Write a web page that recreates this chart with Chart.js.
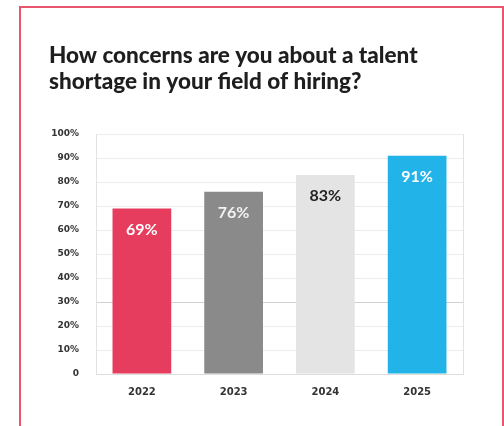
<!DOCTYPE html>
<html>
<head>
<meta charset="utf-8">
<script src="https://cdn.jsdelivr.net/npm/chart.js@4"></script>
<style>
  html, body { margin: 0; padding: 0; background: #fff; }
  body { width: 504px; height: 426px; position: relative; overflow: hidden; }
  .card {
    position: absolute; left: 19px; top: 6px;
    width: 481px; height: 440px;
    border: 2px solid #e9546f;
  }
  #wrap { position: absolute; left: 0; top: 0; width: 504px; height: 426px; }
</style>
</head>
<body>
<div class="card"></div>
<div id="wrap"><canvas id="myChart"></canvas></div>
<script>
var years = ['2022', '2023', '2024', '2025'];
var concerned = [69, 76, 83, 91];
var barColors = ['#e63d5e', '#8a8a8a', '#e4e4e4', '#22b4e8'];
var labelColors = ['#ffffff', '#f2f2f2', '#222222', '#ffffff'];
var yTicks = [0, 10, 20, 30, 40, 50, 60, 70, 80, 90, 100];

// value labels inside the top of each bar
var barLabels = {
	id: 'barLabels',
	afterDatasetsDraw: function(chart) {
		var ctx = chart.ctx;
		var meta = chart.getDatasetMeta(0);
		ctx.save();
		ctx.font = 'bold 16px Lato';
		ctx.textAlign = 'center';
		ctx.textBaseline = 'middle';
		meta.data.forEach(function(bar, i) {
			ctx.fillStyle = labelColors[i];
			ctx.fillText(concerned[i] + '%', bar.x, bar.y + 21);
		});
		ctx.restore();
	}
};

// thin frame on the right side of the plot
var rightEdge = {
	id: 'rightEdge',
	beforeDatasetsDraw: function(chart) {
		var a = chart.chartArea;
		var ctx = chart.ctx;
		ctx.save();
		ctx.strokeStyle = '#e2e2e2';
		ctx.lineWidth = 1;
		ctx.beginPath();
		ctx.moveTo(Math.round(a.right) + 0.5, a.top);
		ctx.lineTo(Math.round(a.right) + 0.5, a.bottom);
		ctx.stroke();
		ctx.restore();
	}
};

var ctx = document.getElementById('myChart');
var myChart = new Chart(ctx, {
	type: 'bar',
	data: {
		labels: years,
		datasets: [{
			data: concerned,
			backgroundColor: barColors,
			borderWidth: 0,
			barPercentage: 0.64,
			categoryPercentage: 1
		}]
	},
	options: {
		responsive: true,
		maintainAspectRatio: false,
		animation: false,
		layout: { padding: { left: 49, right: 41, top: 0, bottom: 0 } },
		plugins: {
			legend: { display: false },
			tooltip: { enabled: false },
			title: {
				display: true,
				text: ['How concerns are you about a talent', 'shortage in your field of hiring?'],
				align: 'start',
				color: '#1e1e1e',
				font: { family: 'Lato', size: 22.5, weight: 900, lineHeight: 1.18 },
				padding: { top: 42, bottom: 39 }
			}
		},
		scales: {
			x: {
				grid: { display: false, drawTicks: false },
				border: { display: true, color: '#dcdcdc' },
				ticks: { color: '#333', font: { family: 'DejaVu Sans', size: 10, weight: 'bold' }, padding: 12 },
				afterFit: function(scale) { scale.height = 52; }
			},
			y: {
				min: 0,
				max: 100,
				afterBuildTicks: function(scale) {
					scale.ticks = yTicks.map(function(v) { return { value: v }; });
				},
				grid: {
					drawTicks: false,
					color: function(c) { return c.tick && c.tick.value === 30 ? '#d2d2d2' : '#ececec'; }
				},
				border: { display: true, color: '#e2e2e2' },
				ticks: {
					color: '#333',
					font: { family: 'DejaVu Sans', size: 9, weight: 'bold' },
					padding: 17,
					callback: function(v) { return v === 0 ? '0' : v + '%'; }
				},
				afterFit: function(scale) { scale.width = 47; }
			}
		}
	},
	plugins: [barLabels, rightEdge]
});
</script>
</body>
</html>
